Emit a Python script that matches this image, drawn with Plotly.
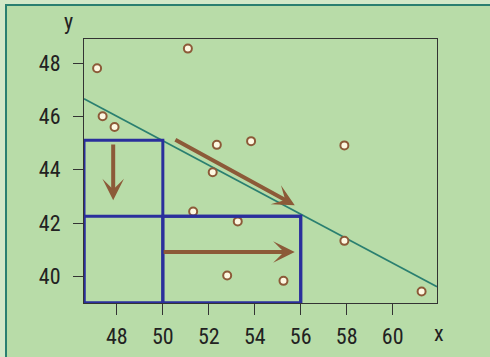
import plotly.graph_objects as go

# ---- data ----
pts_x = [47.14, 51.09, 47.38, 47.90, 52.35, 53.84, 57.90, 52.17, 51.32, 53.26, 52.80, 55.25, 57.90, 61.26]
pts_y = [47.80, 48.54, 46.00, 45.60, 44.93, 45.07, 44.91, 43.90, 42.43, 42.06, 40.03, 39.83, 41.33, 39.43]

line_x = [46.57, 61.93]
line_y = [46.66, 39.61]

x_ticks = [48, 50, 52, 54, 56, 58, 60]
y_ticks = [40, 42, 44, 46, 48]

x_range = [46.57, 61.93]
y_range = [39.0, 48.9]

# boxes: (x0, x1, y0, y1)
boxes = [
    (46.57, 50.0, 39.0, 45.1),
    (46.57, 56.0, 39.0, 42.25),
    (50.0, 56.0, 39.0, 42.25),
]

# arrows: (x_start, y_start, x_tip, y_tip)
arrows = [
    (47.84, 45.0, 47.84, 42.85),
    (50.48, 45.15, 55.74, 42.67),
    (49.97, 40.91, 55.74, 40.91),
]

# ---- style ----
BG = "#b8dca8"
LIGHT = "#d3e8c8"
TEAL = "#2a7f70"
BROWN = "#8c5a38"
BLUE = "#2a2f9c"
FONT = "Roboto Condensed, DejaVu Sans Condensed, sans-serif"

W, H = 490, 357
L, R, T, B = 84, 437, 39, 303


def px(xp):
    return (xp - L) / (R - L)


def py(yp):
    return (B - yp) / (B - T)


fig = go.Figure()

fig.add_trace(go.Scatter(x=line_x, y=line_y, mode="lines",
                         line=dict(color=TEAL, width=1.6), hoverinfo="skip"))

shapes = []
# outer frame
shapes.append(dict(type="rect", xref="paper", yref="paper", x0=px(0), x1=px(W), y0=py(0), y1=py(4),
                   fillcolor=LIGHT, line=dict(width=0), layer="below"))
shapes.append(dict(type="rect", xref="paper", yref="paper", x0=px(0), x1=px(5), y0=py(0), y1=py(H),
                   fillcolor=LIGHT, line=dict(width=0), layer="below"))
shapes.append(dict(type="line", xref="paper", yref="paper", x0=px(6), x1=px(W), y0=py(5), y1=py(5),
                   line=dict(color=TEAL, width=2), layer="below"))
shapes.append(dict(type="line", xref="paper", yref="paper", x0=px(6), x1=px(6), y0=py(4), y1=py(H),
                   line=dict(color=TEAL, width=2), layer="below"))

for (x0, x1, y0, y1) in boxes:
    shapes.append(dict(type="rect", xref="x", yref="y", x0=x0, x1=x1, y0=y0, y1=y1,
                       line=dict(color=BLUE, width=3), layer="above"))

fig.add_trace(go.Scatter(x=pts_x, y=pts_y, mode="markers",
                         marker=dict(size=8, color="#fdf8e2", line=dict(color=BROWN, width=2)),
                         hoverinfo="skip"))

annotations = []
for (xs, ys, xt, yt) in arrows:
    annotations.append(dict(x=xt, y=yt, ax=xs, ay=ys, xref="x", yref="y", axref="x", ayref="y",
                            text="", showarrow=True, arrowhead=3, arrowsize=0.9, arrowwidth=4,
                            arrowcolor=BROWN))

annotations.append(dict(text="y", xref="paper", yref="paper", x=px(68), y=py(22),
                        xanchor="center", yanchor="middle",
                        showarrow=False, font=dict(family=FONT, size=22, color="#222")))
annotations.append(dict(text="x", xref="paper", yref="paper", x=px(439), y=py(333),
                        xanchor="center", yanchor="middle",
                        showarrow=False, font=dict(family=FONT, size=22, color="#222")))

fig.update_layout(
    width=W, height=H,
    margin=dict(l=L, r=W - R, t=T, b=H - B, autoexpand=False),
    paper_bgcolor=BG, plot_bgcolor=BG,
    showlegend=False,
    shapes=shapes,
    annotations=annotations,
    font=dict(family=FONT, size=22, color="#222"),
)
fig.update_xaxes(range=x_range, tickvals=x_ticks, ticks="outside", ticklen=11, tickcolor="#333",
                 tickwidth=1, showgrid=False, zeroline=False, showline=True, mirror=True,
                 linecolor="#333", linewidth=1, ticklabelstandoff=3, automargin=False)
fig.update_yaxes(range=y_range, tickvals=y_ticks, ticks="outside", ticklen=10, tickcolor="#333",
                 tickwidth=1, showgrid=False, zeroline=False, showline=True, mirror=True,
                 linecolor="#333", linewidth=1, ticklabelstandoff=8, automargin=False)

fig.write_html("out.html", post_script="document.body.style.margin='0';",
               config={"displayModeBar": False})
